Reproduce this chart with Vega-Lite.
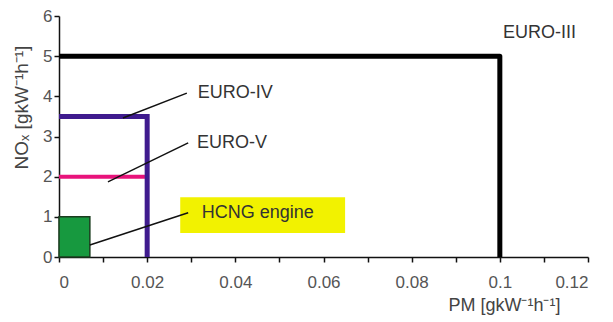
{
  "$schema": "https://vega.github.io/schema/vega-lite/v6.json",
  "width": 529,
  "height": 241,
  "autosize": "none",
  "padding": {"left": 59, "top": 16, "right": 25, "bottom": 65},
  "background": "white",
  "config": {
    "view": {"stroke": null},
    "font": "Liberation Sans",
    "axis": {
      "domainColor": "#111",
      "domainWidth": 1.5,
      "tickColor": "#111",
      "tickWidth": 1.5,
      "tickSize": 5,
      "grid": false,
      "labelColor": "#555",
      "labelFontSize": 17,
      "labelFont": "Liberation Sans",
      "titleFont": "Liberation Sans",
      "titleColor": "#444",
      "titleFontWeight": "normal"
    }
  },
  "datasets": {
    "limits": [
      {"series": "EURO-III", "pt": 1, "pm": 0, "nox": 5},
      {"series": "EURO-III", "pt": 2, "pm": 0.1, "nox": 5},
      {"series": "EURO-III", "pt": 3, "pm": 0.1, "nox": 0},
      {"series": "EURO-IV", "pt": 1, "pm": 0, "nox": 3.5},
      {"series": "EURO-IV", "pt": 2, "pm": 0.02, "nox": 3.5},
      {"series": "EURO-IV", "pt": 3, "pm": 0.02, "nox": 0},
      {"series": "EURO-V", "pt": 1, "pm": 0, "nox": 2},
      {"series": "EURO-V", "pt": 2, "pm": 0.0195, "nox": 2}
    ],
    "hcng": [{"pm0": 0, "pm1": 0.007, "nox0": 0, "nox1": 1}],
    "box": [{"x0": 0.0275, "x1": 0.0649, "y0": 0.6, "y1": 1.49}],
    "leaders": [
      {"label": "EURO-IV", "x0": 0.0145, "y0": 3.46, "x1": 0.029, "y1": 4.08},
      {"label": "EURO-V", "x0": 0.0111, "y0": 1.87, "x1": 0.0293, "y1": 2.84},
      {"label": "HCNG engine", "x0": 0.007, "y0": 0.3, "x1": 0.0293, "y1": 1.1}
    ],
    "labels": [
      {"label": "EURO-III", "x": 0.1007, "y": 5.58},
      {"label": "EURO-IV", "x": 0.0315, "y": 4.08},
      {"label": "EURO-V", "x": 0.0313, "y": 2.84},
      {"label": "HCNG engine", "x": 0.0324, "y": 1.1}
    ]
  },
  "layer": [
    {
      "data": {"name": "box"},
      "mark": {"type": "rect", "fill": "#f2f200"},
      "encoding": {
        "x": {"field": "x0", "type": "quantitative", "scale": {"domain": [0, 0.12], "nice": false},
          "axis": {
            "values": [0, 0.01, 0.02, 0.03, 0.04, 0.05, 0.06, 0.07, 0.08, 0.09, 0.1, 0.11, 0.12],
            "format": "~g",
            "labelExpr": "round(datum.value*100) % 2 == 0 ? datum.label : ''",
            "labelPadding": 12,
            "title": "PM [gkW⁻¹h⁻¹]",
            "titleFontSize": 18,
            "titleAlign": "right",
            "titleAnchor": null,
            "titleX": 501,
            "titleY": 48,
            "titleBaseline": "middle"
          }},
        "x2": {"field": "x1"},
        "y": {"field": "y0", "type": "quantitative", "scale": {"domain": [0, 6], "nice": false},
          "axis": {
            "values": [0, 1, 2, 3, 4, 5, 6],
            "labelPadding": 2,
            "title": "NOₓ [gkW⁻¹h⁻¹]",
            "titleFontSize": 19,
            "titleAlign": "center",
            "titleAnchor": null,
            "titleAngle": -90,
            "titleX": -38,
            "titleY": 91,
            "titleBaseline": "middle"
          }},
        "y2": {"field": "y1"}
      }
    },
    {
      "data": {"name": "hcng"},
      "mark": {"type": "rect", "fill": "#17993f", "stroke": "#1b3d1f", "strokeWidth": 1.5},
      "encoding": {
        "x": {"field": "pm0", "type": "quantitative"},
        "x2": {"field": "pm1"},
        "y": {"field": "nox0", "type": "quantitative"},
        "y2": {"field": "nox1"}
      }
    },
    {
      "data": {"name": "limits"},
      "transform": [{"filter": "datum.series == 'EURO-V'"}],
      "mark": {"type": "line", "color": "#e8137b", "strokeWidth": 4},
      "encoding": {
        "x": {"field": "pm", "type": "quantitative"},
        "y": {"field": "nox", "type": "quantitative"},
        "order": {"field": "pt"}
      }
    },
    {
      "data": {"name": "limits"},
      "transform": [{"filter": "datum.series == 'EURO-IV'"}],
      "mark": {"type": "line", "color": "#3f1b8e", "strokeWidth": 5, "strokeJoin": "miter", "strokeCap": "butt"},
      "encoding": {
        "x": {"field": "pm", "type": "quantitative"},
        "y": {"field": "nox", "type": "quantitative"},
        "order": {"field": "pt"}
      }
    },
    {
      "data": {"name": "limits"},
      "transform": [{"filter": "datum.series == 'EURO-III'"}],
      "mark": {"type": "line", "color": "#000000", "strokeWidth": 5, "strokeJoin": "round", "strokeCap": "butt"},
      "encoding": {
        "x": {"field": "pm", "type": "quantitative"},
        "y": {"field": "nox", "type": "quantitative"},
        "order": {"field": "pt"}
      }
    },
    {
      "data": {"name": "leaders"},
      "mark": {"type": "rule", "color": "#111", "strokeWidth": 1.5},
      "encoding": {
        "x": {"field": "x0", "type": "quantitative"},
        "y": {"field": "y0", "type": "quantitative"},
        "x2": {"field": "x1"},
        "y2": {"field": "y1"}
      }
    },
    {
      "data": {"name": "labels"},
      "mark": {"type": "text", "align": "left", "baseline": "middle", "fontSize": 18, "color": "#333", "font": "Liberation Sans"},
      "encoding": {
        "x": {"field": "x", "type": "quantitative"},
        "y": {"field": "y", "type": "quantitative"},
        "text": {"field": "label"}
      }
    }
  ]
}
